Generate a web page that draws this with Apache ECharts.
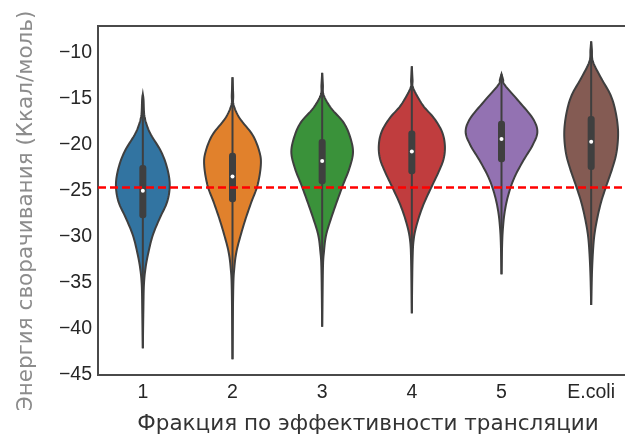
<!DOCTYPE html>
<html><head><meta charset="utf-8">
<script src="https://cdn.jsdelivr.net/npm/echarts@6/dist/echarts.min.js"></script>
<style>html,body{margin:0;padding:0;background:#fff;overflow:hidden;width:625px;height:439px}#c{width:645px;height:439px}</style>
</head><body><div id="c"></div>
<script>
const categories = ['1', '2', '3', '4', '5', 'E.coli'];
const colors = ['#3274a1', '#e1812c', '#3a923a', '#c03d3e', '#9372b2', '#845b53'];
const yTicks = [-45, -40, -35, -30, -25, -20, -15, -10];
const refLine = -24.6;

// violin density profiles: levels (kcal/mol) and relative density (1 = widest)
const v1Y = [-14.5, -15.11, -16.74, -17.83, -18.91, -20.73, -22.53, -24.35, -26.16, -27.97, -29.78, -31.6, -33.37, -35.22, -37.93, -42.1];
const v1D = [0, 0.02, 0.04, 0.11, 0.23, 0.51, 0.68, 0.75, 0.68, 0.47, 0.28, 0.16, 0.075, 0.03, 0.015, 0];
const v2Y = [-12.64, -14.57, -15.65, -17.1, -18.91, -20.73, -22.17, -24.35, -26.16, -27.97, -29.78, -31.6, -33.4, -35.76, -43.3];
const v2D = [0, 0.02, 0.03, 0.2, 0.56, 0.75, 0.79, 0.7, 0.53, 0.37, 0.23, 0.11, 0.05, 0.02, 0];
const v3Y = [-12.17, -13.48, -14.57, -16.01, -17.47, -18.91, -20.73, -22.53, -24.35, -26.16, -27.97, -29.78, -31.6, -33.59, -39.75];
const v3D = [0, 0.02, 0.04, 0.25, 0.58, 0.76, 0.86, 0.76, 0.58, 0.41, 0.25, 0.11, 0.05, 0.02, 0];
const v4Y = [-11.45, -12.93, -13.84, -15.65, -17.1, -18.55, -20.0, -21.45, -22.9, -24.71, -26.52, -28.34, -30.14, -32.5, -38.3];
const v4D = [0, 0.02, 0.04, 0.3, 0.62, 0.84, 0.92, 0.89, 0.75, 0.53, 0.32, 0.16, 0.056, 0.02, 0];
const v5Y = [-12.3, -12.9, -13.48, -15.29, -17.1, -18.55, -20.0, -21.82, -23.62, -25.43, -27.25, -29.05, -30.87, -34.06];
const v5D = [0, 0.045, 0.09, 0.49, 0.87, 1.0, 0.87, 0.59, 0.35, 0.19, 0.09, 0.04, 0.017, 0];
const v6Y = [-8.75, -9.67, -10.95, -12.75, -14.57, -16.38, -18.55, -20.73, -22.53, -24.35, -26.16, -27.97, -29.78, -31.6, -34.13, -37.4];
const v6D = [0, 0.02, 0.05, 0.28, 0.54, 0.68, 0.75, 0.71, 0.59, 0.43, 0.28, 0.17, 0.09, 0.05, 0.02, 0];

// inner box statistics
const q3 = [-22.17, -20.84, -19.35, -18.44, -17.36, -16.85];
const medians = [-24.97, -23.44, -21.74, -20.72, -19.35, -19.64];
const q1 = [-27.97, -26.23, -24.28, -23.19, -21.88, -22.72];
const whiskerHi = [-14.5, -12.64, -12.17, -11.45, -12.3, -8.75];
const whiskerLo = [-42.1, -43.3, -39.75, -38.3, -34.06, -37.4];

const profilesY = [v1Y, v2Y, v3Y, v4Y, v5Y, v6Y];
const profilesD = [v1D, v2D, v3D, v4D, v5D, v6D];

const EDGE = '#3f3f3f';

function catmull(pts, steps) {
  const out = [];
  for (let i = 0; i < pts.length - 1; i++) {
    const p0 = pts[Math.max(i - 1, 0)], p1 = pts[i], p2 = pts[i + 1], p3 = pts[Math.min(i + 2, pts.length - 1)];
    for (let s = 0; s < steps; s++) {
      const t = s / steps, t2 = t * t, t3 = t2 * t;
      const f = (a, b, c, d) => 0.5 * ((2 * b) + (-a + c) * t + (2 * a - 5 * b + 4 * c - d) * t2 + (-a + 3 * b - 3 * c + d) * t3);
      out.push([f(p0[0], p1[0], p2[0], p3[0]), f(p0[1], p1[1], p2[1], p3[1])]);
    }
  }
  out.push(pts[pts.length - 1]);
  return out;
}

function renderViolin(params, api) {
  const i = api.value(0);
  const cx = api.coord([i, 0])[0];
  const band = api.size([1, 0])[0];
  const maxHalf = 0.4 * band;
  const Y = profilesY[i], D = profilesD[i];
  const right = [];
  for (let j = 0; j < Y.length; j++) {
    const py = api.coord([i, Y[j]])[1];
    right.push([D[j] * maxHalf, py]);
  }
  const sm = catmull(right, 8).map(p => [Math.max(p[0], 0), p[1]]);
  const poly = sm.map(p => [cx + p[0], p[1]]).concat(sm.slice().reverse().map(p => [cx - p[0], p[1]]));
  const yHi = api.coord([i, whiskerHi[i]])[1];
  const yLo = api.coord([i, whiskerLo[i]])[1];
  const yQ3 = api.coord([i, q3[i]])[1];
  const yQ1 = api.coord([i, q1[i]])[1];
  const yMed = api.coord([i, medians[i]])[1];
  const bw = 7;
  return {
    type: 'group',
    children: [
      { type: 'polygon', shape: { points: poly }, style: { fill: colors[i], stroke: EDGE, lineWidth: 2 } },
      { type: 'line', shape: { x1: cx, y1: yHi, x2: cx, y2: yLo }, style: { stroke: EDGE, lineWidth: 2 } },
      { type: 'rect', shape: { x: cx - bw / 2, y: yQ3, width: bw, height: yQ1 - yQ3, r: 3 }, style: { fill: EDGE } },
      { type: 'circle', shape: { cx: cx, cy: yMed, r: 2 }, style: { fill: '#ffffff' } }
    ]
  };
}

const chart = echarts.init(document.getElementById('c'), null, { renderer: 'canvas' });
chart.setOption({
  animation: false,
  backgroundColor: '#ffffff',
  grid: { left: 98, top: 26, width: 538, height: 349, show: true, borderColor: '#4a4a4a', borderWidth: 2, backgroundColor: 'transparent' },
  xAxis: {
    type: 'category', data: categories, boundaryGap: true,
    axisLine: { show: false }, axisTick: { show: false }, splitLine: { show: false },
    axisLabel: { color: '#262626', fontSize: 19.5, fontFamily: 'Liberation Sans', margin: 8 }
  },
  yAxis: {
    type: 'value', min: -45, max: -7.07, interval: 5,
    axisLine: { show: false }, axisTick: { show: false }, splitLine: { show: false },
    axisLabel: {
      color: '#262626', fontSize: 19.5, fontFamily: 'Liberation Sans', margin: 6,
      formatter: v => yTicks.indexOf(Math.round(v * 100) / 100) >= 0 ? String(v).replace('-', '\u2212') : ''
    }
  },
  graphic: [
    { type: 'text', x: 26, y: 211, rotation: Math.PI / 2,
      style: { text: 'Энергия сворачивания (Ккал/моль)', fill: '#8c8c8c', font: '21.5px "DejaVu Sans"', textAlign: 'center', textVerticalAlign: 'middle' } },
    { type: 'text', x: 368, y: 424,
      style: { text: 'Фракция по эффективности трансляции', fill: '#333333', font: '21.5px "DejaVu Sans"', textAlign: 'center', textVerticalAlign: 'middle' } }
  ],
  series: [{
    type: 'custom',
    renderItem: renderViolin,
    data: categories.map((c, i) => [i]),
    encode: { x: 0 },
    z: 2,
    markLine: {
      silent: true, symbol: ['none', 'none'], z: 5,
      label: { show: false },
      lineStyle: { color: '#ff0000', width: 2.5, type: [8, 4] },
      data: [{ yAxis: refLine }]
    }
  }]
});
</script>
</body></html>
